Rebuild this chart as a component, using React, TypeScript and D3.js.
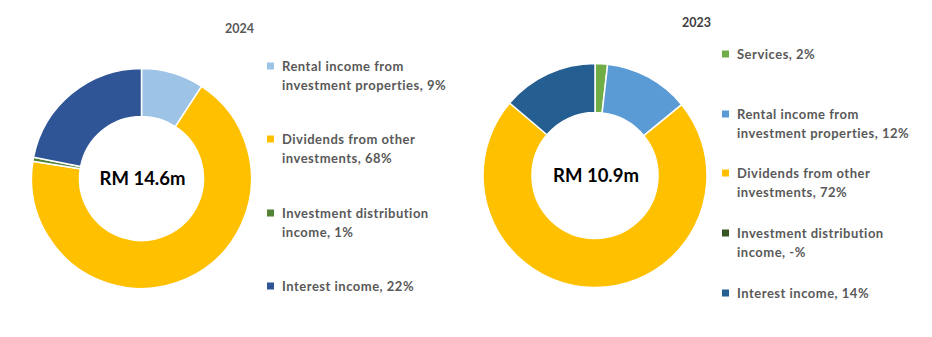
import React from "react";
import * as d3 from "d3";

const W = 932;
const H = 337;

// 2024
const cats2024 = ["Rental income from investment properties", "Dividends from other investments", "Investment distribution income", "Interest income"];
const vals2024 = [9.2, 68.3, 0.6, 21.9];
const labels2024 = ["9%", "68%", "1%", "22%"];
const colors2024 = ["#9DC3E6", "#FFC000", "#548235", "#2F5597"];
const total2024 = "RM 14.6m";

// 2023
const cats2023 = ["Services", "Rental income from investment properties", "Dividends from other investments", "Investment distribution income", "Interest income"];
const vals2023 = [1.8, 12.3, 72.1, 0, 13.8];
const labels2023 = ["2%", "12%", "72%", "-%", "14%"];
const colors2023 = ["#70AD47", "#5B9BD5", "#FFC000", "#375623", "#255E91"];
const total2023 = "RM 10.9m";

// legend line wrapping
const wrap2024 = [
  ["Rental income from", "investment properties, 9%"],
  ["Dividends from other", "investments, 68%"],
  ["Investment distribution", "income, 1%"],
  ["Interest income, 22%"],
];
const wrap2023 = [
  ["Services, 2%"],
  ["Rental income from", "investment properties, 12%"],
  ["Dividends from other", "investments, 72%"],
  ["Investment distribution", "income, -%"],
  ["Interest income, 14%"],
];

const FONT = "Lato, 'Open Sans', sans-serif";

function Donut({ cx, cy, rOuter, rInner, values, colors, total }: any) {
  const pie = d3.pie<number>().sort(null).value((d) => d);
  const arcs = pie(values);
  const arc = d3.arc<d3.PieArcDatum<number>>().innerRadius(rInner).outerRadius(rOuter);
  return (
    <g transform={`translate(${cx},${cy})`}>
      {arcs.map((a, i) =>
        a.endAngle - a.startAngle > 0 ? (
          <path key={i} d={arc(a) || ""} fill={colors[i]} stroke="#fff" strokeWidth={1.5} />
        ) : null
      )}
      <text x={1} y={6} textAnchor="middle" fontFamily={FONT} fontWeight={700} fontSize={18.5} fill="#000">
        {total}
      </text>
    </g>
  );
}

function Legend({ x, items, colors, centers }: any) {
  const lh = 19;
  return (
    <g>
      {items.map((lines: string[], i: number) => (
        <g key={i}>
          <rect x={x} y={centers[i] - 3.5} width={7} height={7} fill={colors[i]} />
          {lines.map((ln, j) => (
            <text key={j} x={x + 15} y={centers[i] + 4.5 + j * lh} fontFamily={FONT} fontWeight={700} fontSize={13} letterSpacing={0.5} fill="#595959">
              {ln}
            </text>
          ))}
        </g>
      ))}
    </g>
  );
}

export default function App() {
  return (
    <svg width={W} height={H} style={{ position: "absolute", left: 0, top: 0, background: "#fff" }}>
      <text x={225} y={33} fontFamily={FONT} fontWeight={700} fontSize={12.5} fill="#595959">2024</text>
      <Donut cx={141.5} cy={178.5} rOuter={110} rInner={62} values={vals2024} colors={colors2024} total={total2024} />
      <Legend x={267} items={wrap2024} colors={colors2024} centers={[66, 139, 213, 286]} />

      <text x={682} y={27} fontFamily={FONT} fontWeight={700} fontSize={12.5} fill="#404040">2023</text>
      <Donut cx={595} cy={175.5} rOuter={112} rInner={63} values={vals2023} colors={colors2023} total={total2023} />
      <Legend x={722} items={wrap2023} colors={colors2023} centers={[54, 114, 173, 233, 293]} />
    </svg>
  );
}
